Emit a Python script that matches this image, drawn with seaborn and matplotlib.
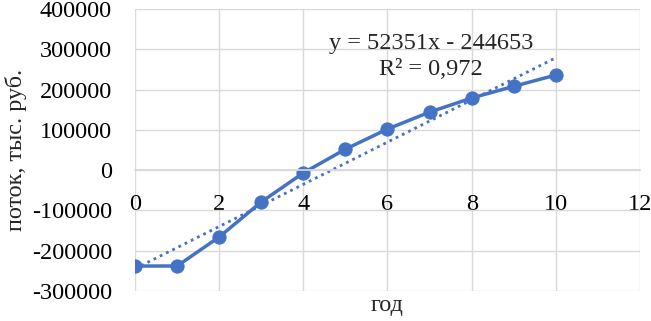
import numpy as np
import pandas as pd
import seaborn as sns
import matplotlib.pyplot as plt

# годы и денежный поток (тыс. руб.)
years = [0, 1, 2, 3, 4, 5, 6, 7, 8, 9, 10]
flow = [-238000, -238000, -166000, -79000, -7000, 52000, 102000, 144000, 179000, 208000, 236000]
trend_slope = 52351
trend_intercept = -244653
x_ticks = [0, 2, 4, 6, 8, 10, 12]
y_ticks = [-300000, -200000, -100000, 0, 100000, 200000, 300000, 400000]

df = pd.DataFrame({"год": years, "поток": flow})
df["тренд"] = trend_slope * df["год"] + trend_intercept

sns.set_theme(style="whitegrid")
plt.rcParams['font.family'] = ['Liberation Serif', 'DejaVu Serif']
plt.rcParams['axes.unicode_minus'] = False

blue = "#4472C4"
fs = 17.5
fig = plt.figure(figsize=(6.51, 3.21), dpi=100)
ax = fig.add_axes([0.2074, 0.0935, 0.7756, 0.8785])

sns.lineplot(data=df, x="год", y="тренд", ax=ax, color=blue, lw=2, linestyle=(0, (1, 1.5)))
sns.lineplot(data=df, x="год", y="поток", ax=ax, color=blue, lw=2.5,
             marker="o", markersize=9.5, markeredgecolor=blue)

ax.set_xlim(0, 12)
ax.set_ylim(-300000, 400000)
ax.set_xticks(x_ticks)
ax.set_yticks(y_ticks)
ax.grid(True, color="#d9d9d9", lw=1)
for s in ["top", "right", "left"]:
    ax.spines[s].set_visible(False)
ax.spines["bottom"].set_position(("data", 0))
ax.spines["bottom"].set_color("#d9d9d9")
ax.tick_params(axis="both", length=0, labelsize=fs, colors="black")
ax.tick_params(axis="x", pad=17)
ax.tick_params(axis="y", pad=16.5)

ax.set_xlabel("год", fontsize=fs)
ax.set_ylabel("поток, тыс. руб.", fontsize=fs)
ax.xaxis.set_label_coords(0.5, -0.015)
ax.yaxis.set_label_coords(-0.214, 0.5)
ax.xaxis.label.set_va("top")

ax.text(7.03, 283000, "y = 52351x - 244653\nR² = 0,972", ha="center", va="center",
        fontsize=fs, linespacing=1.3)

fig.savefig("out.png", dpi=100)
